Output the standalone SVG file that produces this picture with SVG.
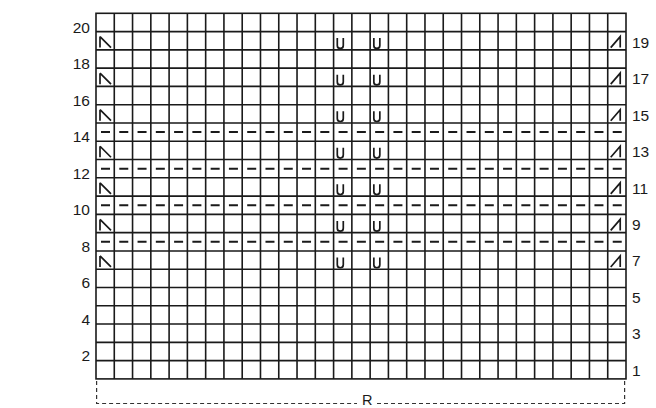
<svg xmlns="http://www.w3.org/2000/svg" xmlns:xlink="http://www.w3.org/1999/xlink" width="656" height="408" viewBox="0 0 656 408">
<style>
.grid{fill:none;stroke:#1a1a1a;stroke-width:1.6}
.dash{fill:none;stroke:#1a1a1a;stroke-width:2;stroke-dasharray:9 9.276}
.sym{fill:none;stroke:#1a1a1a;stroke-width:1.7;stroke-linecap:butt}
.lbl{font-family:"Liberation Sans",Arial,sans-serif;font-size:15.5px;fill:#1a1a1a}
.l{text-anchor:end}
.br{fill:none;stroke:#333;stroke-width:1.2;stroke-dasharray:4 3}
</style>
<defs>
<path id="lk" class="sym" d="M4,5 V16 M4,5 L15,16"/>
<path id="rk" class="sym" d="M3,16 L12.5,5 V16"/>
<path id="u" class="sym" d="M3.7,6.5 V13.8 A3,3 0 0 0 9.7,13.8 V6.5"/>
</defs>
<g id="grid">
<rect class="grid" x="96" y="13.3" width="530" height="365.6"/>
<path class="grid" d="M114.28,13.3V378.9M132.55,13.3V378.9M150.83,13.3V378.9M169.1,13.3V378.9M187.38,13.3V378.9M205.66,13.3V378.9M223.93,13.3V378.9M242.21,13.3V378.9M260.48,13.3V378.9M278.76,13.3V378.9M297.03,13.3V378.9M315.31,13.3V378.9M333.59,13.3V378.9M351.86,13.3V378.9M370.14,13.3V378.9M388.41,13.3V378.9M406.69,13.3V378.9M424.97,13.3V378.9M443.24,13.3V378.9M461.52,13.3V378.9M479.79,13.3V378.9M498.07,13.3V378.9M516.34,13.3V378.9M534.62,13.3V378.9M552.9,13.3V378.9M571.17,13.3V378.9M589.45,13.3V378.9M607.72,13.3V378.9"/>
<path class="grid" d="M96,31.58H626M96,49.86H626M96,68.14H626M96,86.42H626M96,104.7H626M96,122.98H626M96,141.26H626M96,159.54H626M96,177.82H626M96,196.1H626M96,214.38H626M96,232.66H626M96,250.94H626M96,269.22H626M96,287.5H626M96,305.78H626M96,324.06H626M96,342.34H626M96,360.62H626"/>
</g>
<g id="dashes">
<path class="dash" d="M101,132.12H626M101,168.68H626M101,205.24H626M101,241.8H626"/>
</g>
<g id="symbols">
<use xlink:href="#lk" x="96" y="31.58"/><use xlink:href="#lk" x="96" y="68.14"/><use xlink:href="#lk" x="96" y="104.7"/><use xlink:href="#lk" x="96" y="141.26"/><use xlink:href="#lk" x="96" y="177.82"/><use xlink:href="#lk" x="96" y="214.38"/><use xlink:href="#lk" x="96" y="250.94"/>
<use xlink:href="#rk" x="607.72" y="31.58"/><use xlink:href="#rk" x="607.72" y="68.14"/><use xlink:href="#rk" x="607.72" y="104.7"/><use xlink:href="#rk" x="607.72" y="141.26"/><use xlink:href="#rk" x="607.72" y="177.82"/><use xlink:href="#rk" x="607.72" y="214.38"/><use xlink:href="#rk" x="607.72" y="250.94"/>
<use xlink:href="#u" x="333.59" y="31.58"/><use xlink:href="#u" x="333.59" y="68.14"/><use xlink:href="#u" x="333.59" y="104.7"/><use xlink:href="#u" x="333.59" y="141.26"/><use xlink:href="#u" x="333.59" y="177.82"/><use xlink:href="#u" x="333.59" y="214.38"/><use xlink:href="#u" x="333.59" y="250.94"/>
<use xlink:href="#u" x="370.14" y="31.58"/><use xlink:href="#u" x="370.14" y="68.14"/><use xlink:href="#u" x="370.14" y="104.7"/><use xlink:href="#u" x="370.14" y="141.26"/><use xlink:href="#u" x="370.14" y="177.82"/><use xlink:href="#u" x="370.14" y="214.38"/><use xlink:href="#u" x="370.14" y="250.94"/>
</g>
<g id="left-labels" class="lbl l">
<text x="90" y="33">20</text>
<text x="90" y="69.3">18</text>
<text x="90" y="105.8">16</text>
<text x="90" y="142.3">14</text>
<text x="90" y="178.9">12</text>
<text x="90" y="215.4">10</text>
<text x="90" y="251.8">8</text>
<text x="90" y="288.3">6</text>
<text x="90" y="324.8">4</text>
<text x="90" y="361.4">2</text>
</g>
<g id="right-labels" class="lbl">
<text x="632" y="47.5">19</text>
<text x="632" y="84">17</text>
<text x="632" y="120.5">15</text>
<text x="632" y="157">13</text>
<text x="632" y="193.5">11</text>
<text x="632" y="230">9</text>
<text x="632" y="266.4">7</text>
<text x="632" y="302.9">5</text>
<text x="632" y="339.3">3</text>
<text x="632" y="375.6">1</text>
</g>
<g id="repeat">
<path class="br" d="M96.6,381V403.5H357"/>
<path class="br" d="M377,403.5H624.6V381"/>
<text class="lbl" x="367.3" y="404.6" text-anchor="middle" style="font-size:14.5px">R</text>
</g>
</svg>
